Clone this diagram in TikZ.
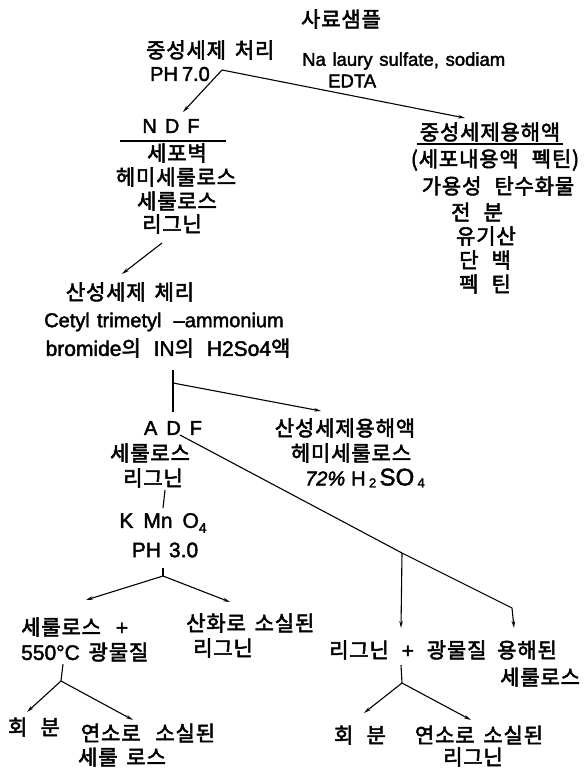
\documentclass[tikz,border=0pt]{standalone}
\usepackage{fontspec}
\setmainfont[LetterSpace=4,FakeBold=2.5,WordSpace=1.6]{Noto Sans CJK KR}
\newfontfamily\lat[FakeBold=2,WordSpace=1.3]{Liberation Sans}
\usetikzlibrary{arrows.meta}
\tikzset{
  kr/.style={inner sep=0pt, font=\fontsize{21}{23}\selectfont},
  la/.style={inner sep=0pt, font=\lat\fontsize{20}{22}\selectfont},
  lc/.style={inner sep=0pt, font=\lat\fontsize{18.5}{22}\selectfont},
  lb/.style={inner sep=0pt, font=\lat\fontsize{21}{22}\selectfont},
  conn/.style={line width=1.1pt},
  arr/.style={conn, -{Stealth[length=7pt,width=3.5pt]}}
}
\newcommand{\gap}{\hspace{13pt}}
\begin{document}
\begin{tikzpicture}[x=1pt,y=-1pt]
\useasboundingbox[fill=white] (0,0) rectangle (588,768);
% top
\node[kr] (n0) at (341,19) {사료샘플};
\node[kr,anchor=west] (n1) at (146,50) {중성세제 처리};
\node[la,anchor=west] (n1b) at (150,74) {PH\hspace{4pt}7.0};
\node[lc,anchor=west] (n2) at (302,61) {Na laury sulfate, sodiam};
\node[lc,anchor=west] (n2b) at (328,81) {EDTA};
\coordinate (j1) at (222,70);
\coordinate (ndfin) at (183,112);
\coordinate (solin) at (465,118);
\draw[arr] (j1) -- (ndfin);
\draw[arr] (j1) -- (solin);
% NDF
\node[la] (ndf) at (171,126) {N\hspace{8pt}D\hspace{8pt}F};
\coordinate (ula) at (120,141); \coordinate (ulb) at (226,141);
\draw[conn] (ula) -- (ulb);
\node[kr] (c1) at (177,153) {세포벽};
\node[kr] (c2) at (176,177) {헤미세룰로스};
\node[kr] (c3) at (177,201) {세룰로스};
\node[kr] (c4) at (172,224) {리그닌};
% right column
\node[kr] (s0) at (490,132) {중성세제용해액};
\coordinate (ulc) at (417,144); \coordinate (uld) at (563,144);
\draw[conn] (ulc) -- (uld);
\node[kr] (s1) at (495,160) {(세포내용액\gap 펙틴)};
\node[kr] (s2) at (498,186) {가용성\gap 탄수화물};
\node[kr] (s3) at (477,212) {전\gap 분};
\node[kr] (s4) at (486,236) {유기산};
\node[kr] (s5) at (485,260) {단\gap 백};
\node[kr] (s6) at (485,284) {펙\gap 틴};
% acid detergent
\coordinate (a1s) at (162,243);
\coordinate (a1e) at (122,274);
\draw[arr] (a1s) -- (a1e);
\node[kr] (acid) at (130,292) {산성세제 체리};
\node[la] (cetyl) at (164,322) {Cetyl trimetyl\hspace{5pt} –ammonium};
\node[kr] (brom) at (168,348) {{\lat bromide}의\hspace{4pt} {\lat IN}의\hspace{4pt} {\lat H2So4}액};
\coordinate (v1a) at (173,370);
\coordinate (v1b) at (173,412);
\coordinate (br1) at (173,383);
\coordinate (asol) at (321,411);
\draw[conn] (v1a) -- (v1b);
\draw[arr] (br1) -- (asol);
% ADF
\node[la] (adf) at (173,428) {A\hspace{9pt}D\hspace{9pt}F};
\node[kr] (d1) at (150,453) {세룰로스};
\node[kr] (d2) at (153,478) {리그닌};
\node[kr] (as0) at (345,428) {산성세제용해액};
\node[kr] (as1) at (351,453) {헤미세룰로스};
\node[la] (as2) at (365,478) {{\itshape 72\%}\hspace{6pt}H\,\raisebox{-2pt}{\fontsize{13}{13}\selectfont 2}\,{\fontsize{24}{24}\selectfont SO}\,\raisebox{-2pt}{\fontsize{13}{13}\selectfont 4}};
% diagonal
\coordinate (dg0) at (180,435);
\coordinate (dg1) at (402,553);
\coordinate (dg2) at (512,608);
\coordinate (lgin) at (401,628);
\coordinate (solc) at (514,628);
\draw[conn] (dg0) -- (dg1) -- (dg2);
\draw[arr] (dg2) -- (solc);
\draw[arr] (dg1) -- (lgin);
% KMnO4
\coordinate (k0) at (165,490);
\coordinate (k1) at (163,508);
\draw[conn] (k0) -- (k1);
\node[lb] (km) at (163,523) {K\hspace{10pt}Mn\hspace{10pt}O\raisebox{-5pt}{\fontsize{14}{14}\selectfont 4}};
\node[lb] (ph3) at (165,550) {PH\hspace{8pt}3.0};
\coordinate (b2t) at (163,568);
\coordinate (b2) at (163,576);
\coordinate (b2l) at (86,600);
\coordinate (b2r) at (230,602);
\draw[conn] (b2t) -- (b2);
\draw[arr] (b2) -- (b2l);
\draw[arr] (b2) -- (b2r);
\node[kr,anchor=west] (e1) at (21,627) {세룰로스\hspace{6pt} {\lat +}};
\node[kr,anchor=west] (e2) at (21,652) {{\lat 550\textdegree C} 광물질};
\node[kr,anchor=west] (f1) at (186,623) {산화로 소실된};
\node[kr,anchor=west] (f2) at (193,648) {리그닌};
% right lower
\node[kr,anchor=west] (g1) at (329,650) {리그닌\hspace{4pt} {\lat +}\hspace{4pt} 광물질};
\node[kr,anchor=west] (h1) at (497,650) {용해된};
\node[kr,anchor=west] (h2) at (500,677) {세룰로스};
% bottom left
\coordinate (m0) at (63,664);
\coordinate (m1) at (61,681);
\coordinate (m1l) at (27,712);
\coordinate (m1r) at (133,720);
\draw[conn] (m0) -- (m1);
\draw[arr] (m1) -- (m1l);
\draw[arr] (m1) -- (m1r);
\node[kr] (p1) at (34,727) {회\gap 분};
\node[kr] (p2) at (148,733) {연소로\hspace{6pt} 소실된};
\node[kr] (p3) at (122,757) {세룰 로스};
% bottom right
\coordinate (q0) at (401,665);
\coordinate (q1) at (402,683);
\coordinate (q1l) at (364,713);
\coordinate (q1r) at (471,720);
\draw[conn] (q0) -- (q1);
\draw[arr] (q1) -- (q1l);
\draw[arr] (q1) -- (q1r);
\node[kr] (r1) at (360,735) {회\gap 분};
\node[kr] (r2) at (479,735) {연소로 소실된};
\node[kr] (r3) at (473,757) {리그닌};
\end{tikzpicture}
\end{document}
